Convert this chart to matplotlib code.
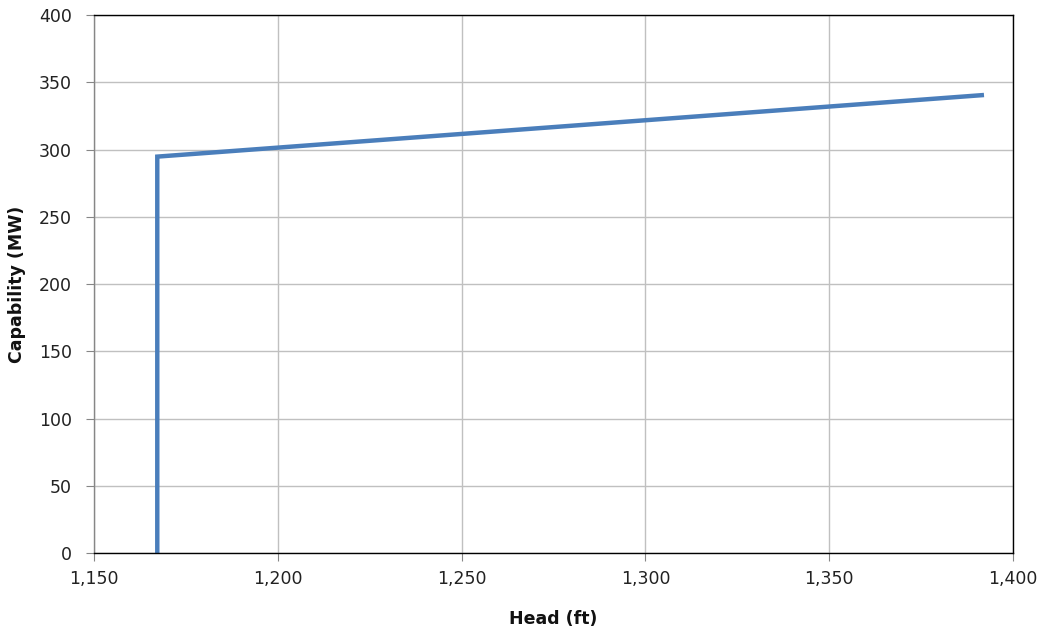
import matplotlib
matplotlib.use('Agg')
from matplotlib import pyplot as plt
from matplotlib.ticker import FuncFormatter

# capability curve data
head = [1167.2, 1167.2, 1391.5]
capability = [0, 294.8, 340.5]

fig = plt.figure(figsize=(10.45, 6.32), dpi=100)
ax = fig.add_axes([0.09, 0.125, 0.8794, 0.851])

ax.plot(head, capability, color='#4a7ebb', linewidth=3.2, solid_joinstyle='miter')

ax.set_xlim(1150, 1400)
ax.set_ylim(0, 400)
ax.set_xticks(range(1150, 1401, 50))
ax.set_yticks(range(0, 401, 50))
ax.xaxis.set_major_formatter(FuncFormatter(lambda v, p: '{:,.0f}'.format(v)))

ax.grid(True, color='#c0c0c0', linewidth=1)
ax.set_axisbelow(True)

for s in ['top', 'right', 'bottom']:
    ax.spines[s].set_color('black')
    ax.spines[s].set_linewidth(1)
ax.spines['left'].set_color('#868686')
ax.spines['left'].set_linewidth(1)

ax.tick_params(axis='both', direction='out', length=6, labelsize=12.5,
               color='#868686', labelcolor='#222222')
ax.tick_params(axis='x', pad=6)
ax.tick_params(axis='y', pad=10)

ax.set_xlabel('Head (ft)', fontsize=12.5, fontweight='bold', color='#111111')
ax.set_ylabel('Capability (MW)', fontsize=12.5, fontweight='bold', color='#111111')
ax.xaxis.set_label_coords(0.5, -0.106)
ax.yaxis.set_label_coords(-0.074, 0.5)

plt.savefig('out.png', dpi=100)
